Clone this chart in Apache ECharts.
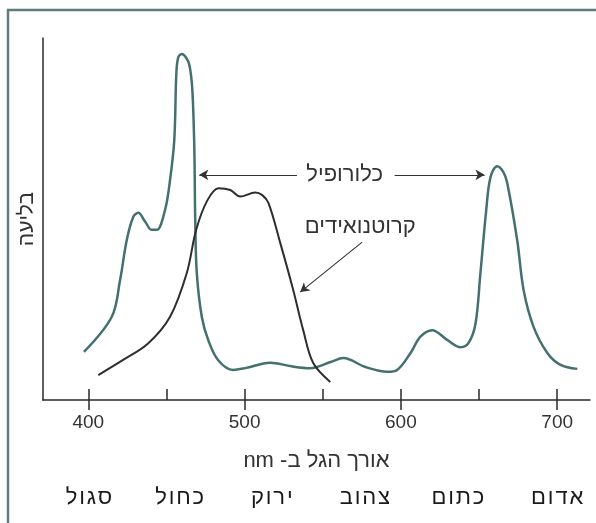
<!DOCTYPE html>
<html>
<head>
<meta charset="utf-8">
<script src="https://cdn.jsdelivr.net/npm/echarts@6/dist/echarts.min.js"></script>
<style>
html,body{margin:0;padding:0;background:#fff;}
#c{width:596px;height:523px;}
</style>
</head>
<body>
<div id="c"></div>
<script>
// wavelength (nm) / absorption (relative) pairs
var chlorophyll = [
  [397.2,13.3],[415.0,23.0],[420.3,33.1],[424.6,44.2],[428.8,50.6],[432.0,51.7],
  [436.3,49.3],[440.6,47.0],[443.8,47.0],[449.1,52.5],[452.3,60.8],[455.0,71.8],
  [456.3,90.0],[457.5,94.6],[459.8,95.6],[462.5,94.6],[464.7,92.5],[466.5,86.0],
  [467.8,70.0],[468.4,50.0],[469.4,35.1],[472.6,23.0],[476.7,16.6],[483.1,11.0],
  [492.7,8.3],[500.4,8.8],[516.4,10.3],[530.0,9.3],[542.0,8.8],[555.0,10.5],
  [563.2,11.6],[577.3,9.1],[591.4,7.8],[597.6,8.3],[606.2,13.0],[612.5,17.5],
  [620.0,19.3],[629.6,16.6],[638.2,14.6],[643.2,15.7],[647.7,21.0],[650.9,35.1],
  [654.5,52.0],[657.3,61.5],[661.6,64.6],[665.5,63.0],[668.0,60.0],[674.4,44.2],
  [678.5,30.4],[684.9,20.2],[693.7,13.0],[702.2,9.7],[712.9,8.6]
];
var carotenoids = [
  [406.4,6.9],[422.0,11.0],[438.4,15.7],[452.3,23.0],[463.0,35.1],[469.0,47.0],
  [476.0,55.0],[483.3,58.5],[490.8,58.0],[497.2,56.2],[506.8,57.3],[511.3,56.6],
  [515.3,54.4],[522.8,43.4],[531.1,30.4],[537.5,19.3],[543.9,10.2],[554.8,5.0]
];
var majorTicks = [400, 500, 600, 700];
var minorTicks = [400, 450, 500, 550, 600, 650, 700];
var colorNames = ['סגול', 'כחול', 'ירוק', 'צהוב', 'כתום', 'אדום'];
var colorNamePos = [400.4, 458.4, 517.4, 577.0, 636.5, 700.0];
var xName = 'אורך הגל ב- nm';
var yName = 'בליעה';
var chlLabel = 'כלורופיל';
var carLabel = 'קרוטנואידים';

var FONT = '"Liberation Sans", "DejaVu Sans", sans-serif';
var chart = echarts.init(document.getElementById('c'), null, {renderer: 'canvas'});

function spaced(s) { return s.split('').join('\u200A'); }

var option = {
  animation: false,
  backgroundColor: '#ffffff',
  grid: {left: 43, right: 6, top: 38, bottom: 123, containLabel: false},
  xAxis: [{
    type: 'value', min: 371, max: 721,
    axisLine: {show: true, lineStyle: {color: '#2a2a2a', width: 1.5}},
    axisTick: {show: true, inside: false, length: 10, customValues: majorTicks,
               lineStyle: {color: '#2a2a2a', width: 1.5}},
    axisLabel: {show: true, customValues: majorTicks, margin: 13,
                color: '#333', fontSize: 19, fontFamily: FONT},
    splitLine: {show: false},
    name: '\u202B' + xName + '\u202C', nameLocation: 'middle', nameGap: 50,
    nameTextStyle: {color: '#333', fontSize: 22, fontFamily: FONT}
  }, {
    type: 'value', min: 371, max: 721, position: 'bottom',
    axisLine: {show: false},
    axisTick: {show: true, inside: true, length: 11, customValues: minorTicks,
               lineStyle: {color: '#2a2a2a', width: 1.5}},
    axisLabel: {show: false},
    splitLine: {show: false}
  }],
  yAxis: {
    type: 'value', min: 0, max: 100,
    axisLine: {show: true, lineStyle: {color: '#2a2a2a', width: 1.5}},
    axisTick: {show: false}, axisLabel: {show: false}, splitLine: {show: false},
    name: yName, nameLocation: 'middle', nameGap: 5, nameRotate: 90,
    nameTextStyle: {color: '#333', fontSize: 21, fontFamily: FONT}
  },
  series: [{
    type: 'line', data: chlorophyll, smooth: 0.35, showSymbol: false,
    lineStyle: {color: '#44706f', width: 2.5}, silent: true,
    markLine: {
      silent: true, symbol: ['none', 'arrow'], symbolSize: [8, 9],
      label: {show: false},
      lineStyle: {color: '#333', width: 1.1, type: 'solid'},
      data: [
        [{coord: [533.5, 62.2]}, {coord: [471.0, 62.2]}],
        [{coord: [596.0, 62.2]}, {coord: [653.5, 62.2]}]
      ]
    }
  }, {
    type: 'line', data: carotenoids, smooth: 0.35, showSymbol: false,
    lineStyle: {color: '#2e2e2e', width: 2}, silent: true,
    markLine: {
      silent: true, symbol: ['none', 'arrow'], symbolSize: [8, 9],
      label: {show: false},
      lineStyle: {color: '#333', width: 1.1, type: 'solid'},
      data: [
        [{coord: [575.2, 43.6]}, {coord: [535.6, 29.8]}]
      ]
    }
  }]
};
chart.setOption(option);

var graphics = [];
// frame
graphics.push({type: 'polyline', shape: {points: [[8, 523], [8, 10], [596, 10]]},
  style: {stroke: '#5f7c7b', lineWidth: 2.5, fill: null}, silent: true});

var p1 = chart.convertToPixel({xAxisIndex: 0, yAxisIndex: 0}, [564, 62.2]);
graphics.push({type: 'text', x: p1[0], y: p1[1],
  style: {text: chlLabel, font: '22px ' + FONT, fill: '#333', align: 'center', verticalAlign: 'middle'}});
var p2 = chart.convertToPixel({xAxisIndex: 0, yAxisIndex: 0}, [574, 47.8]);
graphics.push({type: 'text', x: p2[0], y: p2[1],
  style: {text: carLabel, font: '22px ' + FONT, fill: '#333', align: 'center', verticalAlign: 'middle'}});

for (var i = 0; i < colorNames.length; i++) {
  var px = chart.convertToPixel({xAxisIndex: 0}, colorNamePos[i]);
  graphics.push({type: 'text', x: px, y: 498,
    style: {text: spaced(colorNames[i]), font: '22px ' + FONT, fill: '#1a1a1a',
            align: 'center', verticalAlign: 'middle'}});
}
chart.setOption({graphic: graphics});
</script>
</body>
</html>
